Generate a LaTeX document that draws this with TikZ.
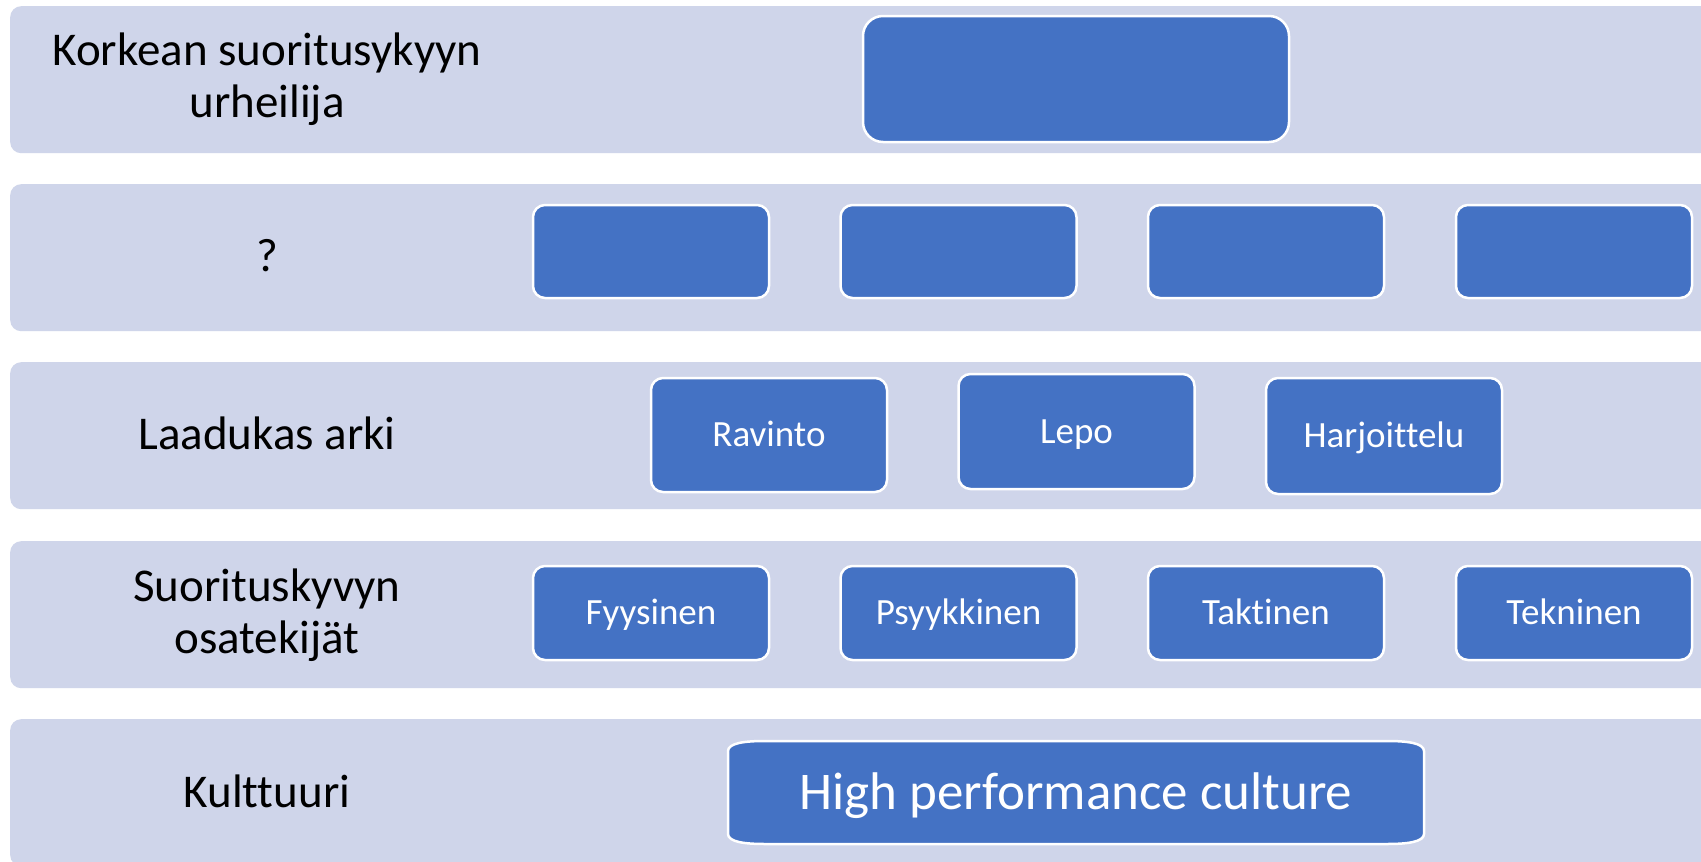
\documentclass[tikz,border=0pt]{standalone}
\usepackage{fontspec}
\setmainfont{Carlito}[Ligatures=NoCommon]
\definecolor{bandfill}{HTML}{CFD5EA}
\definecolor{boxblue}{HTML}{4472C4}
\begin{document}
\begin{tikzpicture}[x=1pt,y=-1pt,
  bandbox/.style={fill=bandfill, draw=none, rounded corners=11pt, anchor=north west,
    minimum width=1760pt, minimum height=147pt, inner sep=0pt},
  rowlabel/.style={align=center, inner sep=0pt, text=black, font=\fontsize{47}{52}\selectfont},
  bluebox/.style={fill=boxblue, draw=white, line width=2.5pt, rounded corners=12pt,
    minimum width=236pt, inner sep=0pt, text=white, font=\fontsize{37}{42}\selectfont,
    text height=23.8pt, text depth=0pt},
]
\useasboundingbox (0,0) rectangle (1701,862);
\clip (0,0) rectangle (1701,862);
\fill[white] (0,0) rectangle (1701,862);

% bands
\node[bandbox] (b1) at (10,6) {};
\node[bandbox] (b2) at (10,184) {};
\node[bandbox] (b3) at (10,362) {};
\node[bandbox] (b4) at (10,541) {};
\node[bandbox] (b5) at (10,719) {};

% row labels
\node[rowlabel] (l1) at (267,79) {Korkean suoritusykyyn\\urheilija};
\node[rowlabel] (l2) at (267,256) {?};
\node[rowlabel] (l3) at (267,433) {Laadukas arki};
\node[rowlabel] (l4) at (267,615) {Suorituskyvyn\\osatekijät};
\node[rowlabel] (l5) at (267,791) {Kulttuuri};

% top row
\node[bluebox, minimum width=426pt, minimum height=126pt, rounded corners=20pt] (top) at (1076,79) {};

% row 2
\node[bluebox, minimum height=93pt] (q1) at (651,251.5) {};
\node[bluebox, minimum height=93pt] (q2) at (958.5,251.5) {};
\node[bluebox, minimum height=93pt] (q3) at (1266,251.5) {};
\node[bluebox, minimum height=93pt] (q4) at (1574,251.5) {};

% row 3
\node[bluebox, minimum height=114pt] (ravinto) at (769,435) {Ravinto};
\node[bluebox, minimum height=115pt] (lepo) at (1076.5,431.5) {Lepo};
\node[bluebox, minimum height=116pt] (harj) at (1384,436) {Harjoittelu};

% row 4
\node[bluebox, minimum height=94pt] (fyys) at (651,613) {Fyysinen};
\node[bluebox, minimum height=94pt] (psyyk) at (958.5,613) {Psyykkinen};
\node[bluebox, minimum height=94pt] (takt) at (1266,613) {Taktinen};
\node[bluebox, minimum height=94pt] (tekn) at (1574,613) {Tekninen};

% row 5
\draw[fill=boxblue, draw=white, line width=2.5pt]
  (728,751) .. controls (728,743) and (745,741) .. (765,741) -- (1387,741)
  .. controls (1407,741) and (1424,743) .. (1424,751) -- (1424,834)
  .. controls (1424,842) and (1407,844) .. (1387,844) -- (765,844)
  .. controls (745,844) and (728,842) .. (728,834) -- cycle;
\node[inner sep=0pt, text=white, font=\fontsize{53}{60}\selectfont,
  text height=34.1pt, text depth=0pt] (hpc) at (1076,792) {High performance culture};
\end{tikzpicture}
\end{document}
